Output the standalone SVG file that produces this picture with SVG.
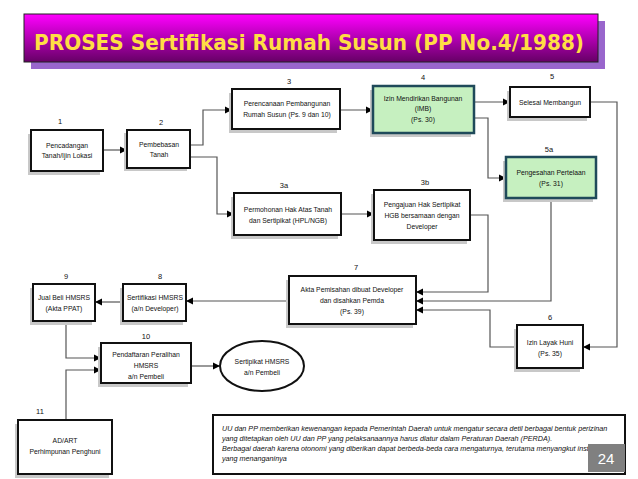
<svg xmlns="http://www.w3.org/2000/svg" width="638" height="479" viewBox="0 0 638 479">
<defs>
<linearGradient id="tg" x1="0" y1="0" x2="0" y2="1"><stop offset="0" stop-color="#ff00ff"/><stop offset="1" stop-color="#660066"/></linearGradient>
<marker id="ar" viewBox="0 0 10 10" refX="10" refY="5" markerWidth="6" markerHeight="6" orient="auto"><path d="M0,0L10,5L0,10z" fill="#000"/></marker>
<style>
.b{fill:#fff;stroke:#111;stroke-width:2}
.g{fill:#c6f0c0;stroke:#1f4a5a;stroke-width:2.5}
.s{fill:#c8c8c8}
text{font-family:"Liberation Sans",Arial,sans-serif;font-size:6.8px;fill:#111;text-anchor:middle}
.n{font-size:7.5px}
.c path{fill:none;stroke:#555;stroke-width:1.2;marker-end:url(#ar)}
.it{font-style:italic;text-anchor:start;font-size:7.2px}
</style>
</defs>
<rect width="638" height="479" fill="#fff"/>
<g id="title">
<rect x="31" y="21" width="574" height="48" fill="#9966cc"/>
<rect x="24" y="14" width="574" height="48" fill="url(#tg)" stroke="#222" stroke-width="1"/>
<text x="34" y="50" textLength="550" lengthAdjust="spacingAndGlyphs" style="font-family:'DejaVu Sans',sans-serif;font-size:21px;font-weight:bold;fill:#ffdd44;text-anchor:start">PROSES Sertifikasi Rumah Susun (PP No.4/1988)</text>
</g>
<g class="c" id="connectors">
<path d="M103,150H127"/>
<path d="M190,145H203V110H232"/>
<path d="M190,157H217V214H234"/>
<path d="M340,110H373"/>
<path d="M474,102H510"/>
<path d="M474,118H488V178H506"/>
<path d="M341,214H374"/>
<path d="M470,215H488V292H416"/>
<path d="M551,198V301H416"/>
<path d="M517,347H490V310H416"/>
<path d="M590,102H617V347H583"/>
<path d="M289,301H186"/>
<path d="M123,302H95"/>
<path d="M66,321V358H101"/>
<path d="M66,420V370H101"/>
<path d="M191,366H220"/>
</g>
<g id="n1"><rect class="s" x="28" y="134" width="72" height="41"/><rect class="b" x="31" y="130" width="72" height="41"/><text class="n" x="60" y="124">1</text><text x="67" y="148">Pencadangan</text><text x="67" y="158">Tanah/Ijin Lokasi</text></g>
<g id="n2"><rect class="s" x="124" y="133" width="63" height="38"/><rect class="b" x="127" y="130" width="63" height="38"/><text class="n" x="161" y="125">2</text><text x="159" y="147">Pembebasan</text><text x="159" y="157">Tanah</text></g>
<g id="n3"><rect class="s" x="229" y="93" width="108" height="40"/><rect class="b" x="232" y="89" width="108" height="40"/><text class="n" x="289" y="84">3</text><text x="287" y="106">Perencanaan Pembangunan</text><text x="287" y="117">Rumah Susun (Ps. 9 dan 10)</text></g>
<g id="n3a"><rect class="s" x="231" y="197" width="107" height="42"/><rect class="b" x="234" y="193" width="107" height="42"/><text class="n" x="284" y="188">3a</text><text x="288" y="212">Permohonan Hak Atas Tanah</text><text x="288" y="223">dan Sertipikat (HPL/NGB)</text></g>
<g id="n4"><rect class="s" x="370" y="90" width="101" height="47"/><rect class="g" x="373" y="86" width="101" height="47"/><text class="n" x="423" y="80">4</text><text x="423" y="101">Izin Mendirikan Bangunan</text><text x="423" y="111">(IMB)</text><text x="423" y="122">(Ps. 30)</text></g>
<g id="n5"><rect class="s" x="507" y="91" width="80" height="30"/><rect class="b" x="510" y="87" width="80" height="30"/><text class="n" x="552" y="79">5</text><text x="550" y="105">Selesai Membangun</text></g>
<g id="n5a"><rect class="s" x="503" y="161" width="90" height="41"/><rect class="g" x="506" y="157" width="90" height="41"/><text class="n" x="549" y="152">5a</text><text x="551" y="175">Pengesahan Pertelaan</text><text x="551" y="186">(Ps. 31)</text></g>
<g id="n3b"><rect class="s" x="371" y="194" width="96" height="50"/><rect class="b" x="374" y="190" width="96" height="50"/><text class="n" x="425" y="185">3b</text><text x="422" y="207">Pengajuan Hak Sertipikat</text><text x="422" y="218">HGB bersamaan dengan</text><text x="422" y="229">Developer</text></g>
<g id="n7"><rect class="s" x="286" y="280" width="127" height="48"/><rect class="b" x="289" y="276" width="127" height="48"/><text class="n" x="356" y="270">7</text><text x="352" y="292">Akta Pemisahan dibuat Developer</text><text x="352" y="303">dan disahkan Pemda</text><text x="352" y="314">(Ps. 39)</text></g>
<g id="n6"><rect class="s" x="514" y="329" width="66" height="43"/><rect class="b" x="517" y="325" width="66" height="43"/><text class="n" x="550" y="320">6</text><text x="550" y="345">Izin Layak Huni</text><text x="550" y="356">(Ps. 35)</text></g>
<g id="n8"><rect class="s" x="120" y="288" width="63" height="37"/><rect class="b" x="123" y="284" width="63" height="37"/><text class="n" x="160" y="279">8</text><text x="155" y="300">Sertifikasi HMSRS</text><text x="155" y="311">(a/n Developer)</text></g>
<g id="n9"><rect class="s" x="30" y="288" width="62" height="37"/><rect class="b" x="33" y="284" width="62" height="37"/><text class="n" x="66" y="279">9</text><text x="64" y="300">Jual Beli HMSRS</text><text x="64" y="311">(Akta PPAT)</text></g>
<g id="n10"><rect class="s" x="98" y="347" width="90" height="40"/><rect class="b" x="101" y="343" width="90" height="40"/><text class="n" x="146" y="339">10</text><text x="146" y="357">Pendaftaran Peralihan</text><text x="146" y="368">HMSRS</text><text x="146" y="379">a/n Pembeli</text></g>
<g id="n12"><ellipse cx="262" cy="366" rx="42" ry="25" fill="#fff" stroke="#111" stroke-width="2"/><text x="262" y="364">Sertipikat HMSRS</text><text x="262" y="375">a/n Pembeli</text></g>
<g id="n11"><rect class="s" x="15" y="424" width="94" height="54"/><rect class="b" x="18" y="420" width="94" height="54"/><text class="n" x="40" y="414">11</text><text x="65" y="443">AD/ART</text><text x="65" y="454">Perhimpunan Penghuni</text></g>
<g id="note"><rect x="213" y="415" width="412" height="59" fill="#fff" stroke="#111" stroke-width="2"/>
<text class="it" x="222" y="431">UU dan PP memberikan kewenangan kepada Pemerintah Daerah untuk mengatur secara detil berbagai bentuk perizinan</text>
<text class="it" x="222" y="441">yang ditetapkan oleh UU dan PP yang pelaksanaannya harus diatur dalam Peraturan Daerah (PERDA).</text>
<text class="it" x="222" y="451">Berbagai daerah karena otonomi yang diberikan dapat berbeda-beda cara mengaturnya, terutama menyangkut instansi</text>
<text class="it" x="222" y="461">yang menanganinya</text>
<rect x="588" y="444" width="37" height="28" fill="#808080"/><text x="606" y="464" style="font-size:15px;fill:#fff">24</text></g>
</svg>
